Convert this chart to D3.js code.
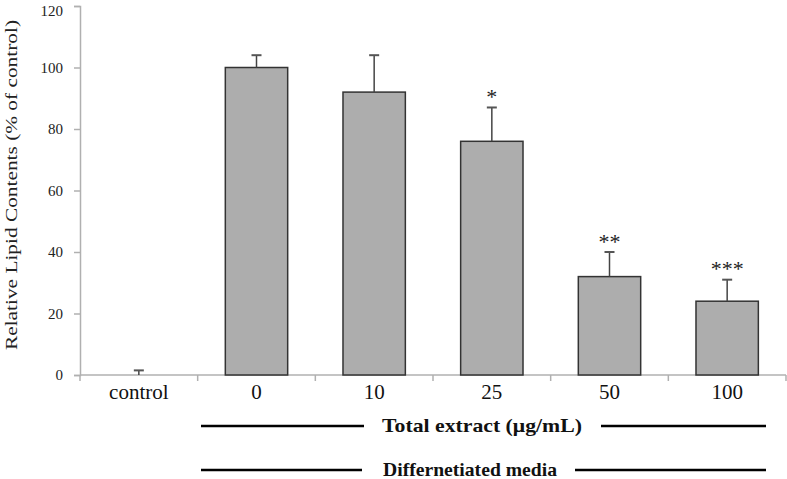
<!DOCTYPE html>
<html><head><meta charset="utf-8">
<script src="https://cdn.jsdelivr.net/npm/d3@7"></script>
<style>body{margin:0;background:#fff}svg{display:block}</style>
</head><body>
<svg id="c" width="787" height="479"></svg>
<script>
const categories = ["control","0","10","25","50","100"];
const values = [0,100,92,76,32,24];
const errors = [1.5,4,12,11,8,7];
const stars = ["","","","*","**","***"];
const yTicks = [0,20,40,60,80,100,120];
const yTitle = "Relative Lipid Contents (% of control)";
const group1 = "Total extract (μg/mL)";
const group2 = "Differnetiated media";

const svg = d3.select("#c");
const serif = "'Liberation Serif','Times New Roman',serif";
const x = d3.scaleBand().domain(categories).range([80,786]).paddingInner(0.47).paddingOuter(0.235);
const y = d3.scaleLinear().domain([0,120]).range([375,6]);

// y axis
const ya = svg.append("g").attr("transform","translate(80,0)")
  .call(d3.axisLeft(y).tickValues(yTicks).tickSize(6).tickPadding(11));
ya.select(".domain").attr("stroke","#b0b0b0").attr("stroke-width",1.5);
ya.selectAll(".tick line").attr("stroke","#b0b0b0").attr("stroke-width",1.5);
ya.selectAll(".tick text").attr("font-family",serif).attr("font-size",15).attr("fill","#222")
  .filter(d=>d===120).attr("dy","0.62em");

// x axis line with ticks at band boundaries
svg.append("line").attr("x1",80).attr("x2",786).attr("y1",375).attr("y2",375)
  .attr("stroke","#b0b0b0").attr("stroke-width",1.5);
const step = x.step();
const start = x(categories[0]) - x.paddingOuter()*step;
svg.selectAll(".xt").data(d3.range(categories.length+1).map(i=>start+i*step)).join("line")
  .attr("x1",d=>d).attr("x2",d=>d).attr("y1",375).attr("y2",381)
  .attr("stroke","#b0b0b0").attr("stroke-width",1.5);
svg.selectAll(".xl").data(categories).join("text")
  .attr("x",d=>x(d)+x.bandwidth()/2).attr("y",399)
  .attr("text-anchor","middle").attr("font-family",serif).attr("font-size",21).attr("fill","#111")
  .text(d=>d);

// bars
const data = categories.map((c,i)=>({c,v:values[i],e:errors[i],s:stars[i]}));
svg.selectAll(".bar").data(data.filter(d=>d.v>0)).join("rect")
  .attr("x",d=>x(d.c)).attr("y",d=>y(d.v))
  .attr("width",x.bandwidth()).attr("height",d=>y(0)-y(d.v))
  .attr("fill","#adadad").attr("stroke","#333").attr("stroke-width",1.5);

// error bars
const eb = svg.selectAll(".eb").data(data).join("g");
eb.append("line")
  .attr("x1",d=>x(d.c)+x.bandwidth()/2).attr("x2",d=>x(d.c)+x.bandwidth()/2)
  .attr("y1",d=>y(d.v)).attr("y2",d=>y(d.v+d.e))
  .attr("stroke","#444").attr("stroke-width",1.5);
eb.append("line")
  .attr("x1",d=>x(d.c)+x.bandwidth()/2-5).attr("x2",d=>x(d.c)+x.bandwidth()/2+5)
  .attr("y1",d=>y(d.v+d.e)).attr("y2",d=>y(d.v+d.e))
  .attr("stroke","#555").attr("stroke-width",2);

// stars
svg.selectAll(".st").data(data.filter(d=>d.s)).join("text")
  .attr("x",d=>x(d.c)+x.bandwidth()/2).attr("y",d=>y(d.v+d.e)-3.5)
  .attr("text-anchor","middle").attr("font-family",serif).attr("font-size",22).attr("fill","#222")
  .text(d=>d.s);

// y title
svg.append("text").attr("transform","translate(17,185) rotate(-90)")
  .attr("text-anchor","middle").attr("font-family",serif).attr("font-size",17).attr("fill","#222")
  .attr("textLength",330).attr("lengthAdjust","spacingAndGlyphs")
  .text(yTitle);

// group labels with lines
function groupRow(label, yy, l1, l2, tx, tw){
  svg.append("line").attr("x1",l1[0]).attr("x2",l1[1]).attr("y1",yy).attr("y2",yy).attr("stroke","#000").attr("stroke-width",2.5);
  svg.append("line").attr("x1",l2[0]).attr("x2",l2[1]).attr("y1",yy).attr("y2",yy).attr("stroke","#000").attr("stroke-width",2.5);
  svg.append("text").attr("x",tx).attr("y",yy+6)
    .attr("text-anchor","middle").attr("font-family",serif).attr("font-weight","bold").attr("font-size",19).attr("fill","#111")
    .attr("textLength",tw).attr("lengthAdjust","spacingAndGlyphs")
    .text(label);
}
groupRow(group1, 426, [201,364], [601,766], 482, 200);
groupRow(group2, 470, [201,362], [575,766], 470, 174);
</script>
</body></html>
